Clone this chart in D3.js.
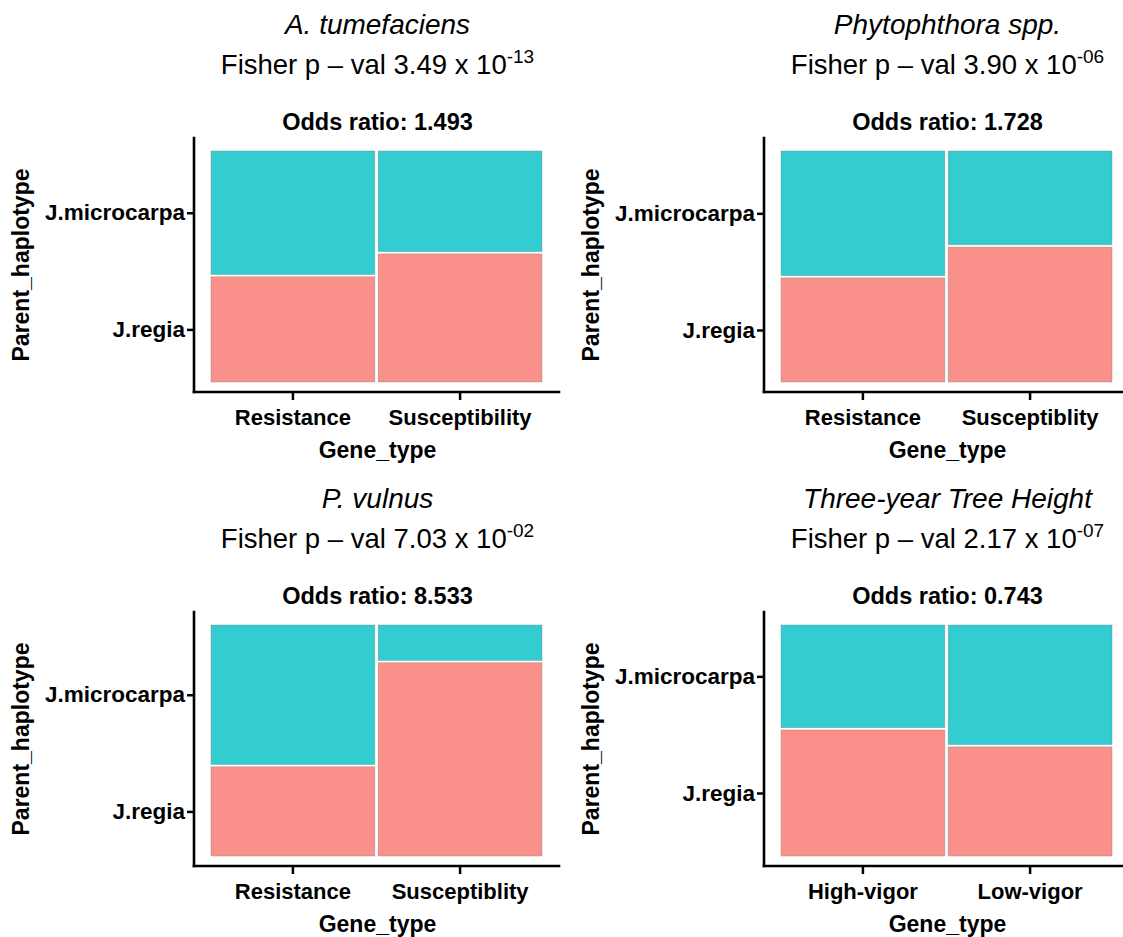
<!DOCTYPE html>
<html>
<head>
<meta charset="utf-8">
<script src="https://cdn.jsdelivr.net/npm/d3@7"></script>
<style>
  html, body { margin: 0; padding: 0; background: #ffffff; }
  svg { display: block; font-family: "Liberation Sans", Arial, sans-serif; }
</style>
</head>
<body>
<svg id="chart" width="1123" height="937"></svg>
<script>
// ---------------- data ----------------
const panelTitles = ["A. tumefaciens", "Phytophthora spp.", "P. vulnus", "Three-year Tree Height"];
const pMantissa = ["3.49", "3.90", "7.03", "2.17"];
const pExponent = ["-13", "-06", "-02", "-07"];
const oddsRatios = ["1.493", "1.728", "8.533", "0.743"];
const geneTypes = [
  ["Resistance", "Susceptibility"],
  ["Resistance", "Susceptiblity"],
  ["Resistance", "Susceptiblity"],
  ["High-vigor", "Low-vigor"]
];
const haplotypes = ["J.regia", "J.microcarpa"];
// share of J.regia (bottom segment) within each gene type column
const regiaShare = [
  [0.46, 0.56],
  [0.455, 0.59],
  [0.39, 0.845],
  [0.551, 0.477]
];
const xTitle = "Gene_type";
const yTitle = "Parent_haplotype";

// ---------------- layout ----------------
const colors = { "J.regia": "#F8766D", "J.microcarpa": "#00BFC4" };
const colX = [194, 764];
const rowY = [138, 612];
const plotW = 365, plotH = 254;
const innerLeft = 17, innerRight = 348, innerTop = 13, innerBottom = 244;
const gapY = 0.01;
const fontFam = '"Liberation Sans", Arial, sans-serif';

const svg = d3.select("#chart");

panelTitles.forEach((title, i) => {
  const ox = colX[i % 2], oy = rowY[Math.floor(i / 2)];
  const g = svg.append("g").attr("transform", `translate(${ox},${oy})`);
  const cx = plotW / 2 + 1;

  const x = d3.scaleBand().domain(geneTypes[i]).range([innerLeft, innerRight])
    .paddingInner(0.02).paddingOuter(0);
  const y = d3.scaleLinear().domain([0, 1]).range([innerBottom, innerTop]);

  // segments
  const segs = [];
  geneTypes[i].forEach((gt, j) => {
    const f = regiaShare[i][j];
    const split = f * (1 - gapY);
    segs.push({ gt, hap: "J.regia", y0: 0, y1: split });
    segs.push({ gt, hap: "J.microcarpa", y0: split + gapY, y1: 1 });
  });

  g.selectAll("rect.seg").data(segs).join("rect")
    .attr("class", "seg")
    .attr("x", d => x(d.gt))
    .attr("width", x.bandwidth())
    .attr("y", d => y(d.y1))
    .attr("height", d => y(d.y0) - y(d.y1))
    .attr("fill", d => colors[d.hap])
    .attr("fill-opacity", 0.8)
    .attr("stroke", "#8a8a8a")
    .attr("stroke-width", 0.7)
    .attr("stroke-opacity", 0.6);

  // y tick positions: midpoints of first column's segments
  const f0 = regiaShare[i][0] * (1 - gapY);
  const yTicks = d3.scaleOrdinal().domain(haplotypes)
    .range([y(f0 / 2), y((f0 + gapY + 1) / 2)]);

  const yAxis = g.append("g").call(d3.axisLeft(yTicks).tickSize(7).tickPadding(2));
  yAxis.select(".domain").remove();
  yAxis.selectAll(".tick line").attr("stroke", "#000").attr("stroke-width", 2.5);
  yAxis.selectAll(".tick text")
    .attr("font-family", fontFam).attr("font-size", 22.5).attr("font-weight", "bold")
    .attr("fill", "#000");

  const xAxis = g.append("g").attr("transform", `translate(0,${plotH})`)
    .call(d3.axisBottom(x).tickSize(8).tickPadding(9));
  xAxis.select(".domain").remove();
  xAxis.selectAll(".tick line").attr("stroke", "#000").attr("stroke-width", 2.5);
  xAxis.selectAll(".tick text")
    .attr("font-family", fontFam).attr("font-size", 22).attr("font-weight", "bold")
    .attr("fill", "#000").attr("y", 33).attr("dy", null);

  // axis lines
  g.append("line").attr("x1", 0).attr("x2", 0).attr("y1", 0).attr("y2", plotH)
    .attr("stroke", "#000").attr("stroke-width", 2.6).attr("stroke-linecap", "square");
  g.append("line").attr("x1", 0).attr("x2", plotW).attr("y1", plotH).attr("y2", plotH)
    .attr("stroke", "#000").attr("stroke-width", 2.6).attr("stroke-linecap", "square");

  // axis titles
  g.append("text").attr("x", cx).attr("y", plotH + 66)
    .attr("text-anchor", "middle").attr("font-family", fontFam)
    .attr("font-size", 23).attr("font-weight", "bold").text(xTitle);
  g.append("text")
    .attr("transform", `translate(-165,${plotH / 2}) rotate(-90)`)
    .attr("text-anchor", "middle").attr("font-family", fontFam)
    .attr("font-size", 23).attr("font-weight", "bold").text(yTitle);

  // titles
  g.append("text").attr("x", cx).attr("y", -104)
    .attr("text-anchor", "middle").attr("font-family", fontFam)
    .attr("font-size", 28).attr("font-style", "italic").attr("fill", "#000").text(title);

  const t2 = g.append("text").attr("x", cx).attr("y", -64)
    .attr("text-anchor", "middle").attr("font-family", fontFam)
    .attr("font-size", 27.5).attr("fill", "#000");
  t2.append("tspan").text(`Fisher p \u2013 val ${pMantissa[i]} x 10`);
  t2.append("tspan").attr("font-size", 19).attr("dy", -11).text(pExponent[i]);

  g.append("text").attr("x", cx).attr("y", -8)
    .attr("text-anchor", "middle").attr("font-family", fontFam)
    .attr("font-size", 23.5).attr("font-weight", "bold").attr("fill", "#000")
    .text(`Odds ratio: ${oddsRatios[i]}`);
});
</script>
</body>
</html>
